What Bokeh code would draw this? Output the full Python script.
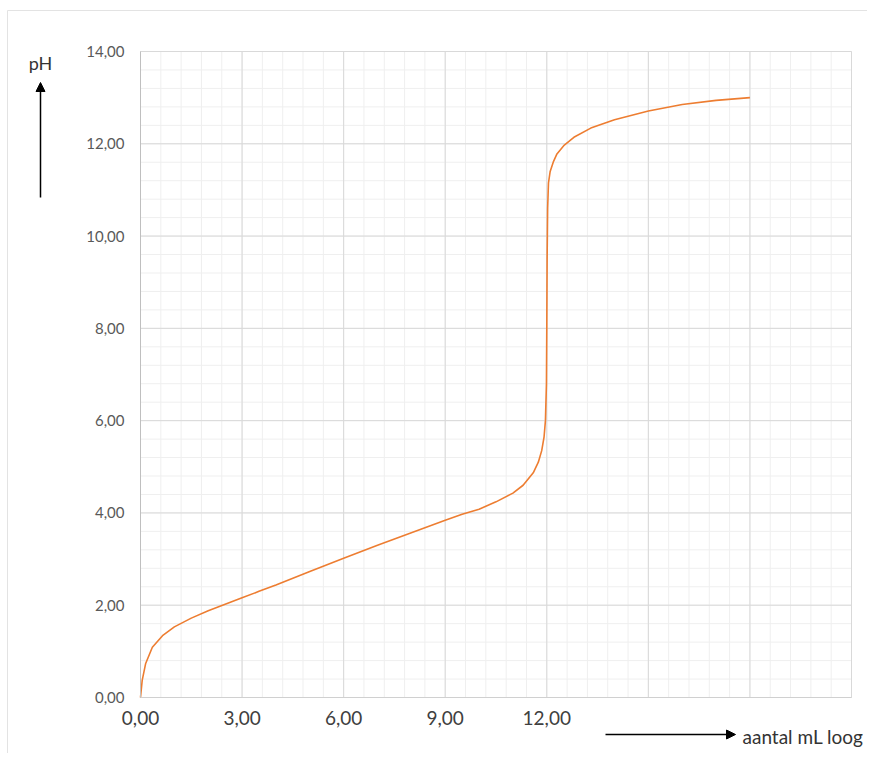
from bokeh.plotting import figure
from bokeh.models import (Range1d, FixedTicker, Arrow, NormalHead, Label,
                          LinearAxis)
from bokeh.embed import file_html
from bokeh.resources import INLINE

# --- data ---
volume_ml = [0, 0.05, 0.15, 0.35, 0.65, 1.0, 1.5, 2.0, 2.5, 3.0, 3.5, 4.0, 5.0,
             6.0, 7.0, 8.0, 9.0, 9.5, 10.0, 10.5, 11.0, 11.3, 11.6, 11.75,
             11.85, 11.92, 11.96, 11.99, 12.0, 12.01, 12.025, 12.05, 12.1,
             12.2, 12.3, 12.5, 12.8, 13.3, 14.0, 15.0, 16.0, 17.0, 18.0]
ph_values = [0.0, 0.37, 0.73, 1.09, 1.34, 1.53, 1.72, 1.88, 2.02, 2.16, 2.30,
             2.44, 2.73, 3.02, 3.30, 3.57, 3.84, 3.97, 4.08, 4.24, 4.43, 4.60,
             4.87, 5.10, 5.35, 5.65, 6.00, 6.80, 8.00, 9.50, 10.60, 11.15,
             11.40, 11.62, 11.78, 11.96, 12.14, 12.34, 12.52, 12.71, 12.85,
             12.94, 13.00]

x_min, x_max = 0, 21
y_min, y_max = 0, 14
x_ticks = [0, 3, 6, 9, 12]
x_tick_labels = ["0,00", "3,00", "6,00", "9,00", "12,00"]
y_ticks = [0, 2, 4, 6, 8, 10, 12, 14]
y_tick_labels = ["0,00", "2,00", "4,00", "6,00", "8,00", "10,00", "12,00", "14,00"]
x_grid_major = [0, 3, 6, 9, 12, 15, 18, 21]
x_grid_minor = [round(i * 0.6, 2) for i in range(36)]
y_grid_minor = [round(i * 0.4, 2) for i in range(36)]

# --- layout (pixels) ---
W, H = 867, 753
PLOT_L, PLOT_R, PLOT_T, PLOT_B = 140, 851, 51, 697
sx = (PLOT_R - PLOT_L) / (x_max - x_min)
sy = (PLOT_B - PLOT_T) / (y_max - y_min)
xr = Range1d(x_min - PLOT_L / sx, x_max + (W - PLOT_R) / sx)
yr = Range1d(y_min - (H - PLOT_B) / sy, y_max + PLOT_T / sy)

FONT = "Lato"

p = figure(width=W, height=H, output_backend="svg", toolbar_location=None,
           x_range=xr, y_range=yr, min_border=0,
           x_axis_location=None, y_axis_location=None)
p.outline_line_color = None
p.background_fill_color = "white"
p.border_fill_color = "white"
p.xgrid.visible = False
p.ygrid.visible = False

# outer chart border (light): left and top edges of the chart area
bx = xr.start + 7 / sx
by = yr.end - 10 / sy
p.segment(x0=[bx, bx], y0=[by, by], x1=[bx, xr.end + 1], y1=[yr.start - 1, by],
          line_color="#e3e3e3", line_width=1)

# minor grid, then major grid, limited to the plot area
p.segment(x0=x_grid_minor, y0=[y_min] * len(x_grid_minor),
          x1=x_grid_minor, y1=[y_max] * len(x_grid_minor),
          line_color="#efefef", line_width=1)
p.segment(x0=[x_min] * len(y_grid_minor), y0=y_grid_minor,
          x1=[x_max] * len(y_grid_minor), y1=y_grid_minor,
          line_color="#efefef", line_width=1)
p.segment(x0=x_grid_major, y0=[y_min] * len(x_grid_major),
          x1=x_grid_major, y1=[y_max] * len(x_grid_major),
          line_color="#d9d9d9", line_width=1)
p.segment(x0=[x_min] * len(y_ticks), y0=y_ticks,
          x1=[x_max] * len(y_ticks), y1=y_ticks,
          line_color="#d9d9d9", line_width=1)

# axes at fixed data locations
xa = LinearAxis(fixed_location=y_min, bounds=(x_min, x_max),
                ticker=FixedTicker(ticks=x_ticks, minor_ticks=[]))
xa.major_label_overrides = {t: l for t, l in zip(x_ticks, x_tick_labels)}
xa.axis_line_color = "#d0d0d0"
xa.major_tick_line_color = None
xa.minor_tick_line_color = None
xa.major_label_text_font = FONT
xa.major_label_text_font_size = "19px"
xa.major_label_text_color = "#404040"
xa.major_label_standoff = 7
p.add_layout(xa, "below")

ya = LinearAxis(fixed_location=x_min, bounds=(y_min, y_max),
                ticker=FixedTicker(ticks=y_ticks, minor_ticks=[]))
ya.major_label_overrides = {t: l for t, l in zip(y_ticks, y_tick_labels)}
ya.axis_line_color = "#bfbfbf"
ya.major_tick_line_color = None
ya.minor_tick_line_color = None
ya.major_label_text_font = FONT
ya.major_label_text_font_size = "15px"
ya.major_label_text_color = "#595959"
ya.major_label_standoff = 10
p.add_layout(ya, "left")

# curve
p.line(volume_ml, ph_values, line_color="#ED7D31", line_width=1.6)

# annotations: pH arrow + label, volume arrow + label (canvas pixels)
head = dict(size=9, fill_color="black", line_color="black")
p.add_layout(Arrow(x_start=40, y_start=197, x_end=40, y_end=82,
                   start_units="canvas", end_units="canvas",
                   line_color="black", line_width=1.5, end=NormalHead(**head)))
p.add_layout(Label(x=40, y=62, x_units="canvas", y_units="canvas", text="pH",
                   text_font=FONT, text_font_size="18px", text_color="#333333",
                   text_align="center", text_baseline="middle"))
p.add_layout(Arrow(x_start=605, y_start=734, x_end=735, y_end=734,
                   start_units="canvas", end_units="canvas",
                   line_color="black", line_width=1.5, end=NormalHead(**head)))
p.add_layout(Label(x=742, y=736, x_units="canvas", y_units="canvas",
                   text="aantal mL loog", text_font=FONT, text_font_size="19px",
                   text_color="#333333", text_align="left", text_baseline="middle"))

open("out.html", "w").write(file_html(p, INLINE))
